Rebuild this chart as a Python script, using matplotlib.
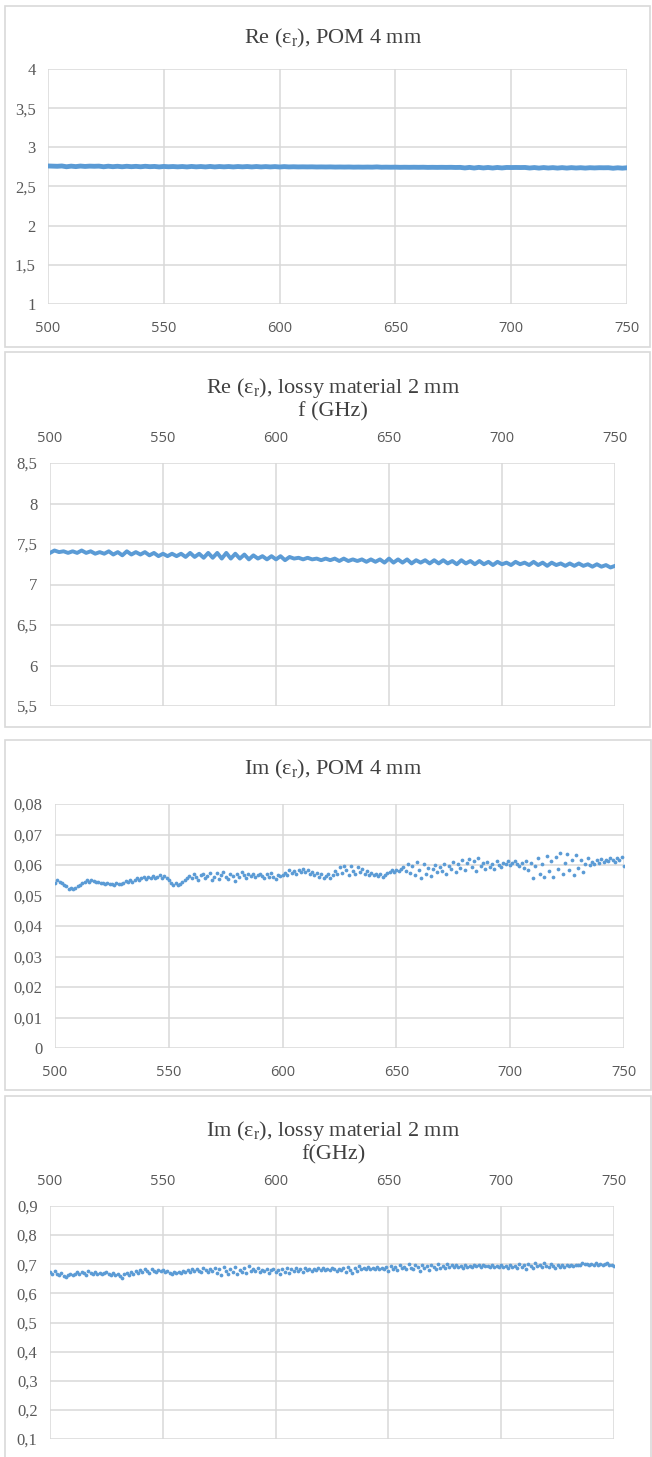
import numpy as np
import matplotlib.pyplot as plt
from matplotlib.patches import Rectangle

plt.rcParams['mathtext.fontset'] = 'custom'
plt.rcParams['mathtext.rm'] = 'Liberation Serif'
plt.rcParams['mathtext.default'] = 'rm'

W, H = 652, 1457
BLUE = '#5b9bd5'
GRID = '#d9d9d9'
LABEL = '#595959'

# -----------------------------
# data
# -----------------------------
freq_ticks = [500, 550, 600, 650, 700, 750]

freq_line = np.arange(500, 751, 2)   # 2 GHz step (solid curves)
freq_dots = np.arange(500, 751, 1)   # 1 GHz step (dotted curves)

# Re(eps_r), POM 4 mm
re_pom = [
    2.762, 2.760, 2.758, 2.762, 2.752, 2.760, 2.754, 2.761, 2.756, 2.760,
    2.758, 2.760, 2.752, 2.759, 2.753, 2.758, 2.752, 2.758, 2.753, 2.757,
    2.752, 2.758, 2.753, 2.756, 2.750, 2.756, 2.752, 2.755, 2.751, 2.755,
    2.750, 2.756, 2.751, 2.755, 2.750, 2.756, 2.750, 2.755, 2.751, 2.755,
    2.750, 2.755, 2.751, 2.755, 2.750, 2.755, 2.750, 2.754, 2.750, 2.754,
    2.749, 2.754, 2.750, 2.752, 2.750, 2.751, 2.750, 2.751, 2.749, 2.750,
    2.749, 2.750, 2.748, 2.749, 2.748, 2.749, 2.747, 2.748, 2.747, 2.748,
    2.747, 2.750, 2.746, 2.747, 2.746, 2.747, 2.745, 2.746, 2.745, 2.746,
    2.745, 2.746, 2.744, 2.745, 2.744, 2.745, 2.744, 2.745, 2.743, 2.744,
    2.737, 2.744, 2.736, 2.744, 2.737, 2.743, 2.736, 2.743, 2.737, 2.743,
    2.742, 2.743, 2.742, 2.743, 2.736, 2.742, 2.735, 2.742, 2.736, 2.741,
    2.735, 2.741, 2.735, 2.741, 2.736, 2.740, 2.735, 2.740, 2.737, 2.740,
    2.739, 2.740, 2.733, 2.739, 2.734, 2.739,
]

# Re(eps_r), lossy material 2 mm
re_lossy = [
    7.39, 7.42, 7.40, 7.41, 7.39, 7.41, 7.39, 7.42, 7.39, 7.41,
    7.38, 7.40, 7.38, 7.41, 7.37, 7.40, 7.36, 7.41, 7.37, 7.40,
    7.37, 7.40, 7.36, 7.39, 7.35, 7.38, 7.35, 7.38, 7.35, 7.38,
    7.34, 7.39, 7.34, 7.38, 7.33, 7.39, 7.33, 7.39, 7.32, 7.39,
    7.32, 7.38, 7.32, 7.37, 7.31, 7.36, 7.32, 7.35, 7.31, 7.35,
    7.31, 7.35, 7.30, 7.34, 7.32, 7.33, 7.31, 7.33, 7.31, 7.32,
    7.30, 7.32, 7.30, 7.32, 7.29, 7.32, 7.29, 7.31, 7.29, 7.31,
    7.28, 7.31, 7.28, 7.31, 7.27, 7.32, 7.27, 7.31, 7.27, 7.31,
    7.26, 7.30, 7.27, 7.30, 7.26, 7.30, 7.26, 7.30, 7.26, 7.29,
    7.25, 7.30, 7.26, 7.29, 7.25, 7.29, 7.25, 7.28, 7.24, 7.28,
    7.25, 7.27, 7.24, 7.28, 7.25, 7.27, 7.24, 7.28, 7.24, 7.27,
    7.23, 7.27, 7.24, 7.26, 7.23, 7.26, 7.23, 7.26, 7.23, 7.25,
    7.22, 7.25, 7.22, 7.24, 7.21, 7.23,
]

# Im(eps_r), POM 4 mm
im_pom = [
    0.0540, 0.0550, 0.0545, 0.0540, 0.0535, 0.0530, 0.0522, 0.0525, 0.0520, 0.0523,
    0.0530, 0.0535, 0.0540, 0.0545, 0.0550, 0.0545, 0.0552, 0.0548, 0.0543, 0.0545,
    0.0542, 0.0540, 0.0538, 0.0540, 0.0537, 0.0538, 0.0536, 0.0540, 0.0538, 0.0539,
    0.0540, 0.0548, 0.0543, 0.0550, 0.0545, 0.0552, 0.0556, 0.0550, 0.0558, 0.0562,
    0.0555, 0.0560, 0.0558, 0.0564, 0.0558, 0.0562, 0.0566, 0.0559, 0.0563, 0.0556,
    0.0550, 0.0542, 0.0536, 0.0540, 0.0534, 0.0538, 0.0545, 0.0550, 0.0558, 0.0564,
    0.0556, 0.0570, 0.0562, 0.0552, 0.0568, 0.0572, 0.0558, 0.0565, 0.0575, 0.0550,
    0.0560, 0.0573, 0.0553, 0.0568, 0.0576, 0.0560, 0.0555, 0.0572, 0.0564, 0.0548,
    0.0570, 0.0562, 0.0576, 0.0568, 0.0558, 0.0572, 0.0565, 0.0570, 0.0560, 0.0568,
    0.0572, 0.0564, 0.0556, 0.0570, 0.0562, 0.0573, 0.0560, 0.0555, 0.0568, 0.0565,
    0.0566, 0.0574, 0.0568, 0.0582, 0.0575, 0.0580, 0.0572, 0.0584, 0.0576, 0.0586,
    0.0578, 0.0582, 0.0572, 0.0578, 0.0568, 0.0575, 0.0562, 0.0570, 0.0558, 0.0565,
    0.0572, 0.0556, 0.0566, 0.0580, 0.0570, 0.0592, 0.0575, 0.0596, 0.0582, 0.0568,
    0.0598, 0.0580, 0.0572, 0.0592, 0.0576, 0.0586, 0.0570, 0.0580, 0.0568, 0.0574,
    0.0566, 0.0572, 0.0564, 0.0570, 0.0562, 0.0568, 0.0574, 0.0578, 0.0582, 0.0578,
    0.0584, 0.0580, 0.0586, 0.0594, 0.0580, 0.0602, 0.0574, 0.0596, 0.0568, 0.0610,
    0.0582, 0.0558, 0.0604, 0.0570, 0.0590, 0.0564, 0.0588, 0.0600, 0.0576, 0.0594,
    0.0580, 0.0602, 0.0572, 0.0596, 0.0586, 0.0610, 0.0578, 0.0604, 0.0590, 0.0616,
    0.0584, 0.0608, 0.0620, 0.0592, 0.0614, 0.0580, 0.0622, 0.0596, 0.0606, 0.0588,
    0.0610, 0.0594, 0.0602, 0.0586, 0.0612, 0.0600, 0.0592, 0.0608, 0.0604, 0.0612,
    0.0600, 0.0606, 0.0612, 0.0602, 0.0596, 0.0608, 0.0590, 0.0614, 0.0584, 0.0606,
    0.0556, 0.0596, 0.0622, 0.0572, 0.0604, 0.0562, 0.0630, 0.0580, 0.0612, 0.0560,
    0.0626, 0.0586, 0.0640, 0.0570, 0.0608, 0.0636, 0.0582, 0.0618, 0.0566, 0.0632,
    0.0590, 0.0616, 0.0576, 0.0604, 0.0624, 0.0600, 0.0610, 0.0604, 0.0616, 0.0606,
    0.0620, 0.0610, 0.0618, 0.0612, 0.0622, 0.0616, 0.0610, 0.0624, 0.0618, 0.0626,
    0.0596,
]

# Im(eps_r), lossy material 2 mm
im_lossy = [
    0.672, 0.665, 0.678, 0.668, 0.664, 0.670, 0.660, 0.657, 0.662, 0.666,
    0.663, 0.668, 0.672, 0.666, 0.675, 0.669, 0.664, 0.676, 0.670, 0.666,
    0.673, 0.668, 0.671, 0.665, 0.669, 0.672, 0.667, 0.662, 0.670, 0.664,
    0.668, 0.659, 0.653, 0.666, 0.671, 0.662, 0.674, 0.668, 0.676, 0.670,
    0.679, 0.672, 0.682, 0.676, 0.671, 0.685, 0.678, 0.674, 0.681, 0.676,
    0.680, 0.674, 0.677, 0.671, 0.668, 0.673, 0.669, 0.675, 0.670, 0.677,
    0.672, 0.679, 0.674, 0.682, 0.676, 0.685, 0.678, 0.672, 0.686, 0.680,
    0.675, 0.684, 0.677, 0.688, 0.670, 0.682, 0.664, 0.690, 0.676, 0.668,
    0.684, 0.672, 0.692, 0.666, 0.680, 0.674, 0.688, 0.670, 0.694, 0.678,
    0.682, 0.676, 0.686, 0.673, 0.680, 0.677, 0.683, 0.671, 0.679, 0.685,
    0.672, 0.680, 0.666, 0.684, 0.675, 0.688, 0.669, 0.682, 0.676, 0.686,
    0.678, 0.683, 0.674, 0.687, 0.679, 0.685, 0.676, 0.684, 0.680, 0.688,
    0.681, 0.686, 0.679, 0.684, 0.680, 0.687, 0.682, 0.678, 0.685, 0.680,
    0.686, 0.675, 0.692, 0.680, 0.671, 0.688, 0.678, 0.694, 0.683, 0.687,
    0.682, 0.689, 0.684, 0.686, 0.683, 0.690, 0.685, 0.688, 0.684, 0.692,
    0.678, 0.695, 0.684, 0.689, 0.681, 0.696, 0.686, 0.692, 0.684, 0.700,
    0.688, 0.682, 0.697, 0.690, 0.678, 0.699, 0.686, 0.694, 0.680, 0.698,
    0.690, 0.684, 0.700, 0.688, 0.693, 0.686, 0.701, 0.689, 0.696, 0.691,
    0.698, 0.690, 0.694, 0.688, 0.697, 0.692, 0.695, 0.690, 0.698, 0.693,
    0.696, 0.691, 0.697, 0.693, 0.695, 0.690, 0.698, 0.692, 0.694, 0.689,
    0.696, 0.690, 0.693, 0.687, 0.698, 0.692, 0.695, 0.688, 0.700, 0.691,
    0.697, 0.685, 0.702, 0.693, 0.688, 0.704, 0.694, 0.699, 0.690, 0.703,
    0.695, 0.689, 0.701, 0.694, 0.686, 0.698, 0.692, 0.696, 0.690, 0.697,
    0.693, 0.698, 0.694, 0.696, 0.699, 0.697, 0.706, 0.700, 0.702, 0.698,
    0.701, 0.697, 0.703, 0.699, 0.700, 0.698, 0.702, 0.704, 0.696, 0.699,
    0.694,
]

re_pom_ticks = [1, 1.5, 2, 2.5, 3, 3.5, 4]
re_lossy_ticks = [5.5, 6, 6.5, 7, 7.5, 8, 8.5]
im_pom_ticks = [0, 0.01, 0.02, 0.03, 0.04, 0.05, 0.06, 0.07, 0.08]
im_lossy_ticks = [0.1, 0.2, 0.3, 0.4, 0.5, 0.6, 0.7, 0.8, 0.9]


def fmt(v):
    # decimal comma, no trailing zeros
    return ('%g' % v).replace('.', ',')


def fx(px):
    return px / W


def fy(py):
    return 1 - py / H


fig = plt.figure(figsize=(W / 100, H / 100), dpi=100)
fig.patch.set_facecolor('white')


def frame(left, top, right, bottom):
    fig.add_artist(Rectangle((fx(left), fy(bottom)), fx(right - left), (bottom - top) / H,
                             transform=fig.transFigure, fill=False,
                             edgecolor=GRID, lw=1.2))


def panel(box, yticks, title, title_y, sub=None, sub_y=None, top=False):
    left, top_px, right, bottom = box
    ax = fig.add_axes([fx(left), fy(bottom), fx(right - left), (bottom - top_px) / H])
    ax.set_xlim(500, 750)
    ax.set_ylim(yticks[0], yticks[-1])
    ax.set_xticks(freq_ticks)
    ax.set_xticklabels([str(t) for t in freq_ticks], family='Open Sans',
                       fontsize=10.5, color=LABEL)
    ax.set_yticks(yticks)
    ax.set_yticklabels([fmt(t) for t in yticks], family='Liberation Serif',
                       fontsize=12, color=LABEL)
    ax.tick_params(length=0)
    ax.tick_params(axis='y', pad=9)
    ax.tick_params(axis='x', pad=12)
    if top:
        ax.xaxis.tick_top()
    for s in ax.spines.values():
        s.set_visible(False)
    ax.grid(True, color=GRID, lw=1.1)
    ax.set_axisbelow(True)
    cx = 333
    fig.text(fx(cx), fy(title_y), title, ha='center', va='center',
             family='Liberation Serif', fontsize=16, color='#404040')
    if sub:
        fig.text(fx(cx), fy(sub_y), sub, ha='center', va='center',
                 family='Liberation Serif', fontsize=16, color='#404040')
    return ax


# panel frames
frame(5, 6, 650, 347)
frame(5, 352, 650, 727)
frame(5, 740, 651, 1090)
frame(5, 1096, 651, 1460)

# 1. Re, POM
ax1 = panel((48, 69, 627, 304), re_pom_ticks, r'Re (ε$_{r}$), POM 4 mm', 38)
ax1.plot(freq_line, re_pom, color=BLUE, lw=3.5)

# 2. Re, lossy material
ax2 = panel((50, 463, 615, 706), re_lossy_ticks, r'Re (ε$_{r}$), lossy material 2 mm', 388,
            sub='f (GHz)', sub_y=412, top=True)
ax2.plot(freq_line, re_lossy, color=BLUE, lw=2.8)

# 3. Im, POM
ax3 = panel((55, 804, 624, 1048), im_pom_ticks, r'Im (ε$_{r}$), POM 4 mm', 769)
ax3.plot(freq_dots, im_pom, ls='none', marker='o', ms=2.7, mew=0, color=BLUE)

# 4. Im, lossy material
ax4 = panel((50, 1206, 614, 1439), im_lossy_ticks, r'Im (ε$_{r}$), lossy material 2 mm', 1131,
            sub='f(GHz)', sub_y=1155, top=True)
ax4.plot(freq_dots, im_lossy, ls='none', marker='o', ms=2.7, mew=0, color=BLUE)

plt.savefig('out.png', dpi=100)
